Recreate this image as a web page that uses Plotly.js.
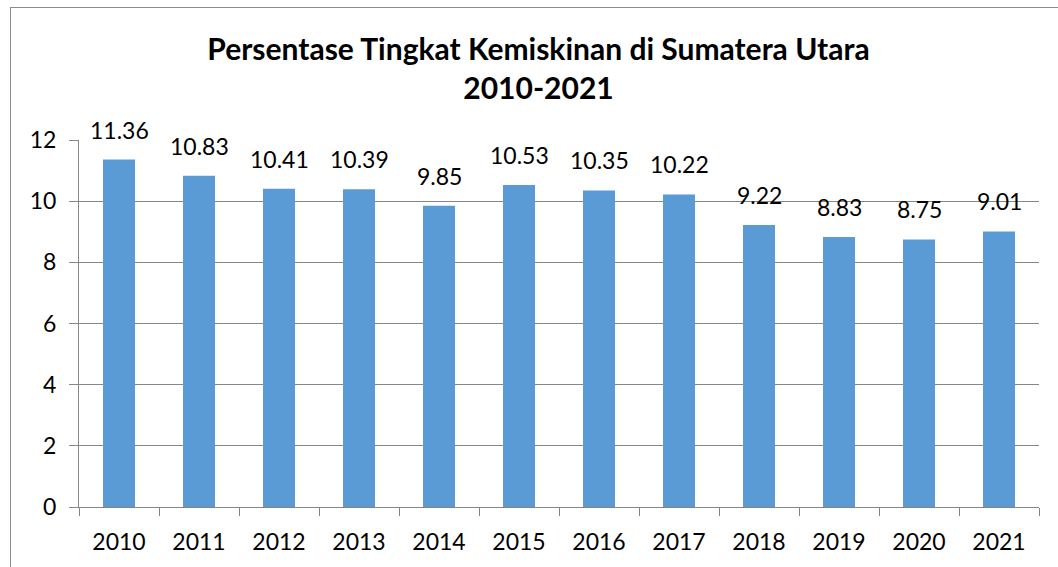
<!DOCTYPE html>
<html><head><meta charset="utf-8">
<script src="https://cdn.plot.ly/plotly-3.0.1.min.js"></script>
<style>
html,body{margin:0;padding:0;background:#fff;overflow:hidden;}
#chart{position:absolute;left:0;top:0;width:1058px;height:567px;}
#frame{position:absolute;left:10px;top:7px;width:1100px;height:600px;border:1px solid #8c8c8c;pointer-events:none;}
</style></head>
<body>
<div id="chart"></div>
<div id="frame"></div>
<script>
const years = ['2010','2011','2012','2013','2014','2015','2016','2017','2018','2019','2020','2021'];
const poverty = [11.36,10.83,10.41,10.39,9.85,10.53,10.35,10.22,9.22,8.83,8.75,9.01];
const yTicks = [0,2,4,6,8,10,12];
const titleLines = ['Persentase Tingkat Kemiskinan di Sumatera Utara','2010-2021'];

const font = 'Lato, "Open Sans", "Liberation Sans", sans-serif';
const labels = years.map((yr,i)=>({
  x:i, y:poverty[i], xref:'x', yref:'y', text:poverty[i].toFixed(2),
  showarrow:false, yanchor:'bottom', yshift:14,
  font:{family:font,size:23,color:'#000'}
}));
Plotly.newPlot('chart', [{
  type:'bar', x:years, y:poverty,
  marker:{color:'#5b9bd5'},
  hoverinfo:'skip'
}], {
  width:1058, height:567,
  margin:{l:79,r:19,t:140,b:60},
  paper_bgcolor:'#fff', plot_bgcolor:'#fff',
  bargap:0.6,
  showlegend:false,
  annotations:labels,
  title:{text:'<b>'+titleLines.join('<br>')+'</b>', x:0.509, xanchor:'center', y:0.895, yanchor:'top',
    font:{family:font,size:30,color:'#000'}},
  xaxis:{type:'category', range:[-0.5,11.5], showgrid:false, showline:true, linecolor:'#868686', linewidth:1,
    ticks:'outside', tickson:'boundaries', ticklen:8, tickcolor:'#868686',
    tickfont:{family:font,size:23,color:'#000'}, ticklabelstandoff:14, fixedrange:true},
  yaxis:{range:[0,12], tickvals:yTicks, showgrid:true, gridcolor:'#868686', gridwidth:1,
    showline:true, linecolor:'#868686', ticks:'outside', ticklen:9, tickcolor:'#868686',
    zeroline:false, tickfont:{family:font,size:23,color:'#000'}, ticklabelstandoff:8, fixedrange:true}
}, {displayModeBar:false, staticPlot:true});
</script>
</body></html>
